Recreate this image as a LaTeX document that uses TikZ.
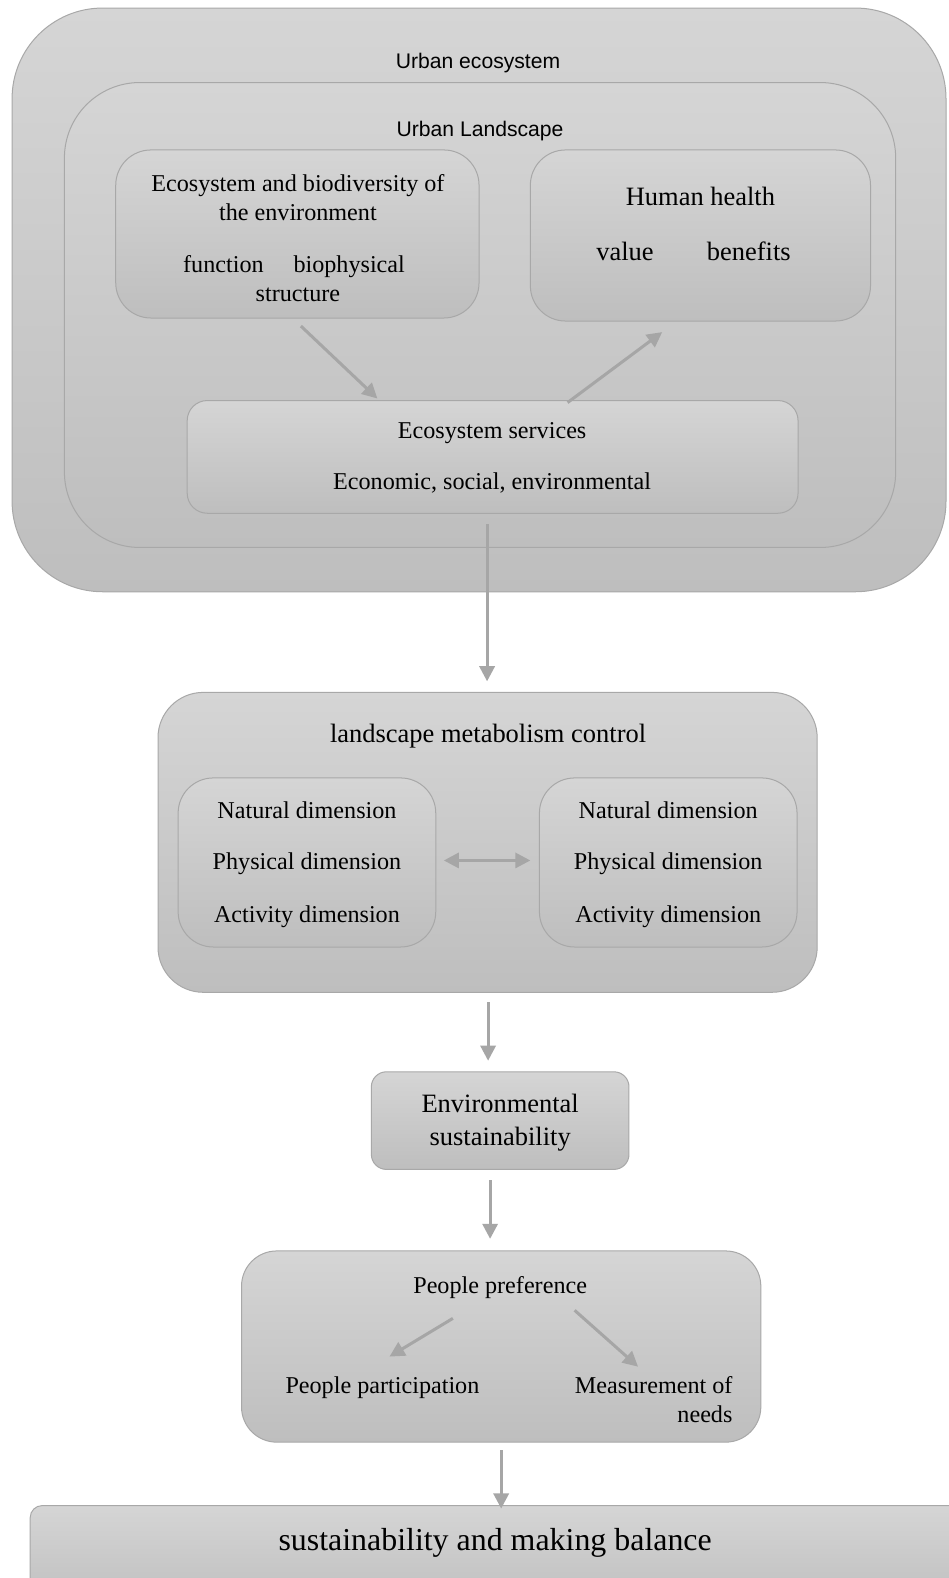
\documentclass[tikz,border=0pt]{standalone}
\usepackage{fontspec}
\setmainfont{Liberation Serif}
\newfontfamily\sansf{Liberation Sans}
\usetikzlibrary{arrows.meta}
\definecolor{bordergray}{HTML}{A8A8A8}
\definecolor{topgray}{HTML}{D5D5D5}
\definecolor{botgray}{HTML}{BEBEBE}
\definecolor{arrowgray}{HTML}{A6A6A6}
\tikzset{
  box/.style={draw=bordergray, line width=1pt, top color=topgray, bottom color=botgray, inner sep=0pt},
  conn/.style={draw=arrowgray, line width=3pt, -{Triangle[length=15pt,width=15pt]}},
  dconn/.style={draw=arrowgray, line width=3pt, {Triangle[length=15pt,width=15pt]}-{Triangle[length=15pt,width=15pt]}},
  tbase/.style={inner sep=0pt, text height=0.7em, text depth=0.22em},
  txt/.style={tbase, yshift=-6pt, font=\fontsize{24}{28}\selectfont},
  bigtxt/.style={tbase, yshift=-6.8pt, font=\fontsize{26.3}{30}\selectfont},
  hugetxt/.style={tbase, yshift=-8pt, font=\fontsize{31.7}{36}\selectfont},
  sanstxt/.style={tbase, yshift=-6pt, font=\sansf\fontsize{21}{25}\selectfont},
}
\begin{document}
\begin{tikzpicture}[x=1pt,y=-1pt]
\useasboundingbox (0,0) rectangle (942,1568);
\fill[white] (0,0) rectangle (942,1568);

% boxes
\node[box, rounded corners=90pt, minimum width=928pt, minimum height=580pt] (eco) at (476,298) {};
\node[box, rounded corners=75pt, minimum width=826pt, minimum height=462pt] (land) at (477,313) {};
\node[box, rounded corners=35pt, minimum width=361pt, minimum height=167pt] (bio) at (295.5,232.5) {};
\node[box, rounded corners=35pt, minimum width=338pt, minimum height=170pt] (health) at (696,234) {};
\node[box, rounded corners=20pt, minimum width=607pt, minimum height=112pt] (serv) at (489.5,454) {};
\node[box, rounded corners=45pt, minimum width=655pt, minimum height=298pt] (metab) at (484.5,837) {};
\node[box, rounded corners=35pt, minimum width=256pt, minimum height=168pt] (dimL) at (305,857) {};
\node[box, rounded corners=35pt, minimum width=256pt, minimum height=168pt] (dimR) at (664,857) {};
\node[box, rounded corners=15pt, minimum width=256pt, minimum height=97pt] (env) at (497,1113.5) {};
\node[box, rounded corners=35pt, minimum width=516pt, minimum height=190pt] (people) at (498,1338) {};
\node[box, rounded corners=12pt, minimum width=950pt, minimum height=104pt] (bal) at (505,1548) {};

% texts
\node[sanstxt] (tEco) at (475,60) {Urban ecosystem};
\node[sanstxt] (tLand) at (477,127) {Urban Landscape};
\node[txt] (tBio1) at (296,182) {Ecosystem and biodiversity of};
\node[txt] (tBio2) at (296,211) {the environment};
\node[txt] (tFunc) at (222,262) {function};
\node[txt] (tBioph) at (347,262) {biophysical};
\node[txt] (tStruct) at (296,291) {structure};
\node[bigtxt] (tHealth) at (696,195) {Human health};
\node[bigtxt] (tValue) at (621,250) {value};
\node[bigtxt] (tBenef) at (744,250) {benefits};
\node[txt] (tServ1) at (489,427) {Ecosystem services};
\node[txt] (tServ2) at (489,478) {Economic, social, environmental};
\node[bigtxt] (tMetab) at (485,729) {landscape metabolism control};
\node[txt] (tL1) at (305,805) {Natural dimension};
\node[txt] (tL2) at (305,856) {Physical dimension};
\node[txt] (tL3) at (305,908) {Activity dimension};
\node[txt] (tR1) at (664,805) {Natural dimension};
\node[txt] (tR2) at (664,856) {Physical dimension};
\node[txt] (tR3) at (664,908) {Activity dimension};
\node[bigtxt] (tEnv1) at (497,1096) {Environmental};
\node[bigtxt] (tEnv2) at (497,1129) {sustainability};
\node[txt] (tPref) at (497,1277) {People preference};
\node[txt] (tPart) at (380,1376) {People participation};
\node[txt, anchor=east] (tMeas1) at (728,1376) {Measurement of};
\node[txt, anchor=east] (tMeas2) at (728,1405) {needs};
\node[hugetxt] (tBal) at (492,1530) {sustainability and making balance};

% connector end points
\coordinate (a1s) at (299,324);
\coordinate (a1e) at (375,396);
\coordinate (a2s) at (564,400);
\coordinate (a2e) at (658,330);
\coordinate (a3s) at (484,521);
\coordinate (a3e) at (484,677);
\coordinate (dl) at (441,855);
\coordinate (dr) at (527,855);
\coordinate (a4s) at (485,996);
\coordinate (a4e) at (485,1054);
\coordinate (a5s) at (487,1173);
\coordinate (a5e) at (487,1231);
\coordinate (a6s) at (450,1310);
\coordinate (a6e) at (387,1348);
\coordinate (a7s) at (571,1302);
\coordinate (a7e) at (634,1358);
\coordinate (a8s) at (498,1441);
\coordinate (a8e) at (498,1499);

\draw[conn] (a1s) -- (a1e);
\draw[conn] (a2s) -- (a2e);
\draw[conn] (a3s) -- (a3e);
\draw[dconn] (dl) -- (dr);
\draw[conn] (a4s) -- (a4e);
\draw[conn] (a5s) -- (a5e);
\draw[conn] (a6s) -- (a6e);
\draw[conn] (a7s) -- (a7e);
\draw[conn] (a8s) -- (a8e);
\end{tikzpicture}
\end{document}
